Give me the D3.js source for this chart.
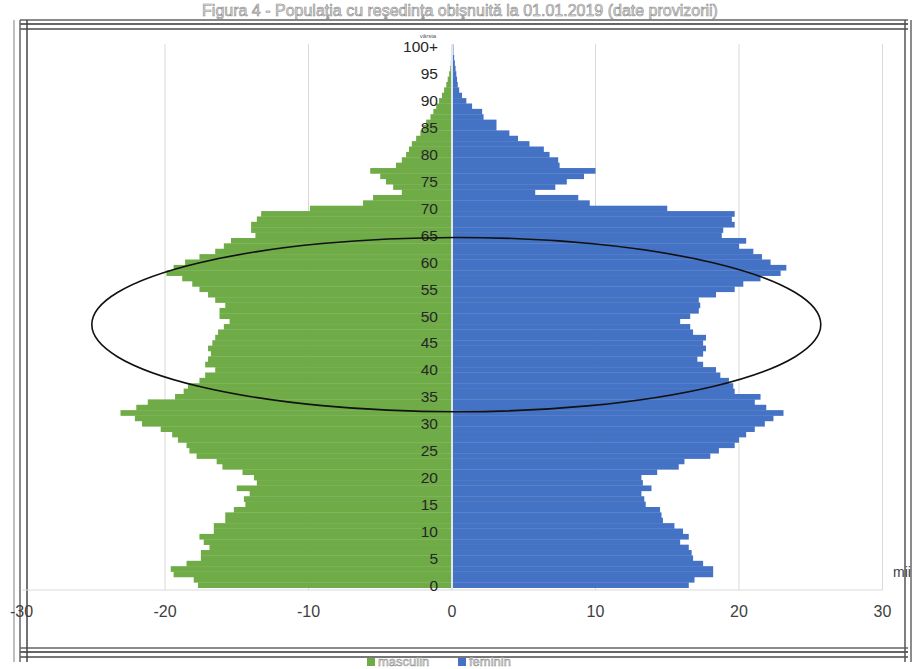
<!DOCTYPE html>
<html><head><meta charset="utf-8">
<script src="https://cdn.jsdelivr.net/npm/d3@7"></script>
<style>body{margin:0;background:#fff}svg{display:block}</style>
</head><body>
<svg id="c" width="915" height="669"></svg>
<script>
const ages = d3.range(0, 101);
const ageTickLabels = ["0","5","10","15","20","25","30","35","40","45","50","55","60","65","70","75","80","85","90","95","100+"];
const xTicks = [-30,-20,-10,0,10,20,30];
const xTickLabels = ["-30","-20","-10","0","10","20","30"];
const seriesNames = ["masculin","feminin"];
const masculin = [17.7,18.0,19.4,19.6,18.5,17.5,17.5,16.9,17.3,17.6,
16.6,16.6,15.8,15.8,15.2,14.4,14.5,14.1,15.0,13.6,
13.8,14.6,16.0,16.4,17.8,18.3,18.5,19.1,19.5,20.3,
21.6,22.1,23.1,22.0,21.2,19.3,18.7,18.4,17.6,17.2,
16.5,17.2,17.0,16.8,17.0,16.7,16.5,16.3,15.9,15.5,
16.2,16.2,15.8,16.5,17.0,17.6,18.1,18.8,19.9,19.4,
18.6,17.6,16.5,15.9,15.4,13.7,14.0,14.0,13.6,13.3,
9.9,6.2,5.5,3.5,4.1,4.6,5.0,5.7,3.9,3.5,
3.2,3.0,2.8,2.5,2.2,2.0,1.8,1.5,1.3,1.1,
0.9,0.7,0.55,0.4,0.3,0.2,0.12,0.08,0.05,0.03,0.03];
const feminin = [16.5,16.9,18.2,18.2,17.5,16.8,16.7,16.5,15.9,16.5,
16.1,15.5,14.7,14.6,14.5,13.5,13.4,13.2,13.9,13.3,
13.2,14.3,15.8,16.2,18.0,18.6,19.7,20.0,20.5,21.1,
21.8,22.4,23.1,21.9,21.1,21.5,19.7,19.6,19.3,18.7,
18.4,17.5,17.1,17.5,17.7,17.5,17.7,16.8,16.6,15.9,
16.6,17.2,17.3,17.2,18.4,19.7,20.3,21.5,22.9,23.3,
22.2,21.6,21.0,20.0,20.5,18.8,18.9,19.7,19.5,19.7,
15.0,9.6,8.8,5.8,7.2,8.0,9.2,10.0,7.5,7.4,
6.8,6.4,5.4,4.6,4.0,3.1,3.1,2.2,2.1,1.4,
1.0,0.7,0.5,0.4,0.35,0.3,0.25,0.2,0.15,0.1,0.1];
// highlighted region (ellipse) in data units: centre value, centre age, half-width value, half-height ages
const ellipseData = [0.3, 48.4, 25.4, 16.2];

const svg = d3.select("#c");
const font = "'Liberation Sans', Arial, sans-serif";
const green = "#6fab46", blue = "#4472c4";

const x = d3.scaleLinear().domain([-30, 30]).range([21.5, 882.5]);
const y = d3.scaleBand().domain(ages.slice().reverse()).range([44.3, 587.7]).padding(0);
const bw = y.bandwidth();

// frame lines
const fr = svg.append("g");
[[20,"#8a8a8a",2],[24,"#333",1.5],[29,"#777",2]].forEach(([yy,c,w])=>fr.append("line").attr("x1",20).attr("x2",908).attr("y1",yy).attr("y2",yy).attr("stroke",c).attr("stroke-width",w));
[[648,"#8a8a8a",2],[652,"#333",1.5],[657,"#777",2]].forEach(([yy,c,w])=>fr.append("line").attr("x1",20).attr("x2",908).attr("y1",yy).attr("y2",yy).attr("stroke",c).attr("stroke-width",w));
[[14,"#aaa",1.5],[20,"#666",1.5],[27,"#444",1.5]].forEach(([xx,c,w])=>fr.append("line").attr("x1",xx).attr("x2",xx).attr("y1",20).attr("y2",662).attr("stroke",c).attr("stroke-width",w));
[[905,"#555",1.5],[911,"#666",1.5]].forEach(([xx,c,w])=>fr.append("line").attr("x1",xx).attr("x2",xx).attr("y1",20).attr("y2",662).attr("stroke",c).attr("stroke-width",w));

// gridlines
svg.append("g").selectAll("line").data(xTicks.filter(d=>d!==0 && d!==-30)).join("line")
  .attr("x1",d=>x(d)).attr("x2",d=>x(d)).attr("y1",44).attr("y2",590)
  .attr("stroke","#d9d9d9").attr("stroke-width",1);

// bars
svg.append("g").selectAll("rect").data(ages).join("rect")
  .attr("x",i=>x(-masculin[i])).attr("width",i=>x(0)-x(-masculin[i]))
  .attr("y",i=>y(i)).attr("height",bw+0.3).attr("fill",green);
svg.append("g").selectAll("rect").data(ages).join("rect")
  .attr("x",x(0)).attr("width",i=>x(feminin[i])-x(0))
  .attr("y",i=>y(i)).attr("height",bw+0.3).attr("fill",blue);
// zero line
svg.append("line").attr("x1",x(0)).attr("x2",x(0)).attr("y1",44).attr("y2",590).attr("stroke","#dfe6ee").attr("stroke-width",2);

// x axis line
svg.append("line").attr("x1",22).attr("x2",x(30)).attr("y1",590).attr("y2",590).attr("stroke","#d9d9d9");

// x tick labels
svg.append("g").selectAll("text").data(xTicks).join("text")
  .attr("x",d=>x(d)).attr("y",617).attr("text-anchor","middle")
  .attr("font-family",font).attr("font-size",16).attr("fill","#404040")
  .text((d,i)=>xTickLabels[i]);

// age labels
svg.append("g").selectAll("text").data(ageTickLabels).join("text")
  .attr("x",438).attr("y",(d,i)=>y(i*5)+bw/2+5.5).attr("text-anchor","end")
  .attr("font-family",font).attr("font-size",15.5).attr("fill","#262626")
  .text(d=>d);
svg.append("text").attr("x",428).attr("y",38).attr("text-anchor","middle")
  .attr("font-family",font).attr("font-size",6).attr("fill","#555").text("vârsta");
svg.append("text").attr("x",893).attr("y",577)
  .attr("font-family",font).attr("font-size",14).attr("fill","#404040").text("mii");

// ellipse
const [ecx, ecy, erx, ery] = ellipseData;
svg.append("ellipse")
  .attr("cx",x(ecx)).attr("cy",y(Math.round(ecy))+bw/2 - (ecy-Math.round(ecy))*y.step())
  .attr("rx",x(erx)-x(0)).attr("ry",ery*y.step())
  .attr("fill","none").attr("stroke","#111").attr("stroke-width",1.6);

// title
svg.append("text").attr("x",460).attr("y",16).attr("text-anchor","middle")
  .attr("font-family",font).attr("font-size",16).attr("fill","#e2e2e2").attr("stroke","#8a8a8a").attr("stroke-width",0.6)
  .text("Figura 4 - Populaţia cu reşedinţa obişnuită la 01.01.2019 (date provizorii)");

// legend
const lg = svg.append("g");
const legX = [367, 458];
seriesNames.forEach((n,i)=>{
  lg.append("rect").attr("x",legX[i]).attr("y",658).attr("width",8).attr("height",8).attr("fill",i?blue:green);
  lg.append("text").attr("x",legX[i]+11).attr("y",666).attr("font-family",font).attr("font-size",13)
    .attr("fill","#e2e2e2").attr("stroke","#8a8a8a").attr("stroke-width",0.5).text(n);
});
</script>
</body></html>
